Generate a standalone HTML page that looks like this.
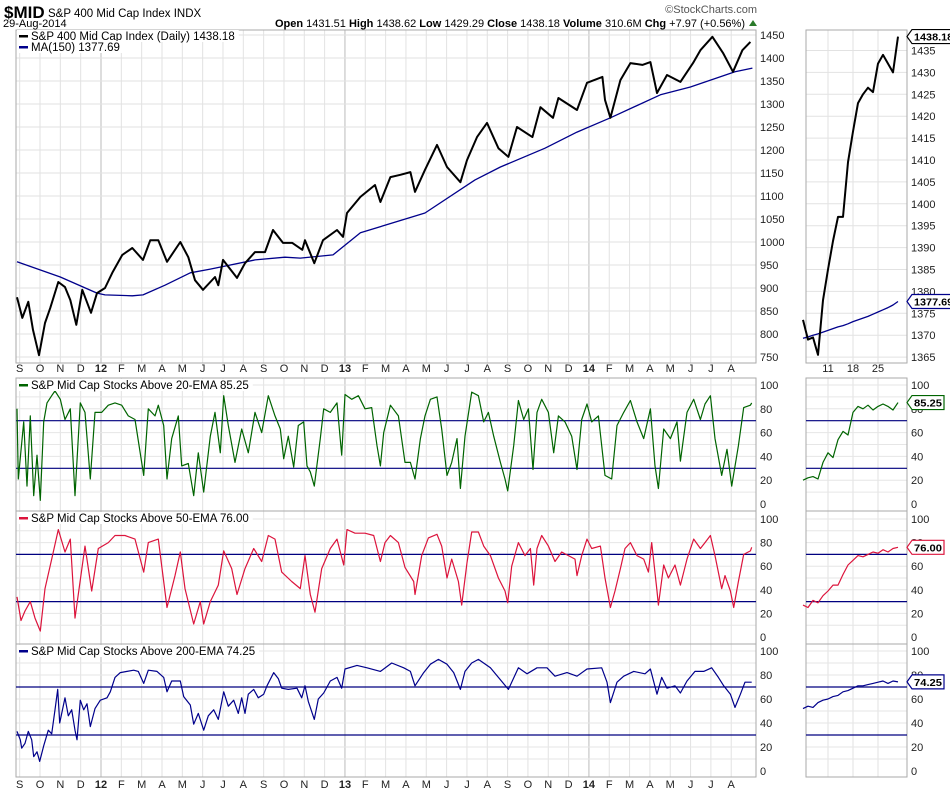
<!DOCTYPE html>
<html><head><meta charset="utf-8">
<style>
body{margin:0;background:#fff;}
svg{display:block;font-family:"Liberation Sans",sans-serif;}
</style></head>
<body>
<svg id="c" width="950" height="795" viewBox="0 0 950 795">
<text x="4" y="18" font-size="17" font-weight="bold">$MID</text>
<text x="48" y="17" font-size="11.5">S&amp;P 400 Mid Cap Index  INDX</text>
<text x="3" y="27" font-size="11">29-Aug-2014</text>
<text x="757" y="13" font-size="11" fill="#555" text-anchor="end">©StockCharts.com</text>
<text x="745" y="27" font-size="11" text-anchor="end"><tspan font-weight="bold">Open</tspan> 1431.51 <tspan font-weight="bold">High</tspan> 1438.62 <tspan font-weight="bold">Low</tspan> 1429.29 <tspan font-weight="bold">Close</tspan> 1438.18 <tspan font-weight="bold">Volume</tspan> 310.6M <tspan font-weight="bold">Chg</tspan> +7.97 (+0.56%)</text>
<polygon points="749,26 757,26 753,20" fill="#2a7a2a"/>
<g id="grid"></g>
<g id="marks"></g>
<g id="labels"></g>
</svg>
<script>
// ---------- DATA ----------
const priceDays=[0,8,17,24,33,42,50,62,72,80,89,98,111,120,132,143,158,173,189,200,212,225,245,257,267,279,297,302,309,330,342,357,372,384,399,413,428,432,446,459,480,489,495,515,537,545,560,575,590,597,612,630,645,665,675,690,705,722,737,750,773,785,804,812,840,855,878,882,890,905,920,938,950,960,975,995,1014,1025,1043,1059,1074,1088,1100];
const priceVals=[880,835,870,809,754,824,857,913,902,874,820,896,846,889,900,933,972,987,961,1004,1004,957,1000,967,917,896,924,906,961,922,954,978,978,1026,998,998,983,1004,954,1004,1026,1011,1063,1098,1124,1087,1141,1146,1152,1109,1157,1211,1163,1130,1178,1228,1259,1204,1185,1250,1228,1293,1270,1313,1287,1346,1359,1309,1270,1352,1389,1385,1391,1324,1363,1348,1389,1417,1446,1411,1370,1417,1435];
const maDays=[0,65,120,132,173,189,222,260,290,357,402,425,474,515,612,687,725,792,840,890,965,1010,1077,1103];
const maVals=[957,924,889,885,883,885,906,933,941,961,967,965,972,1020,1063,1135,1163,1204,1239,1270,1320,1337,1370,1378];
const priceTicks=[750,800,850,900,950,1000,1050,1100,1150,1200,1250,1300,1350,1400,1450];

const greenDays=[0,2,10,15,20,25,30,35,40,45,52,57,65,72,80,87,95,102,110,117,127,137,147,157,167,177,190,197,207,212,220,225,232,242,247,257,265,272,280,290,297,305,310,317,327,337,347,357,367,377,387,395,400,407,415,422,430,435,440,446,455,460,470,480,487,492,502,512,522,532,540,545,550,560,572,582,590,597,605,612,620,630,637,645,652,660,665,672,682,692,700,707,715,725,732,736,745,752,760,767,774,780,787,797,805,812,822,832,840,847,855,862,872,882,892,900,910,920,930,940,950,957,962,970,980,990,995,1005,1015,1025,1032,1040,1047,1057,1065,1072,1082,1090,1100,1102];
const greenVals=[80,21,69,15,74,7,41,3,69,85,91,95,88,71,80,7,85,77,21,77,77,83,85,83,74,71,24,80,74,83,66,21,55,74,32,34,7,43,10,57,77,43,91,66,35,63,43,77,60,91,74,63,38,57,31,66,69,32,27,15,55,80,77,85,41,92,88,91,80,81,49,32,60,83,74,35,35,21,55,74,88,90,63,24,35,55,13,57,94,91,69,77,57,35,21,11,49,87,71,80,29,77,88,77,43,74,69,57,29,71,84,69,74,24,21,66,77,87,69,55,80,32,13,63,55,69,36,77,88,71,84,91,55,24,46,15,49,81,83,85];

const redDays=[0,6,12,20,27,35,42,52,62,72,80,87,102,112,122,137,147,162,177,190,197,212,225,237,245,252,265,275,280,290,302,310,322,330,342,355,367,377,387,397,412,425,432,440,447,457,470,480,490,495,507,522,535,545,552,560,572,582,595,597,607,617,630,637,645,652,662,667,675,682,692,700,710,722,732,736,742,752,762,770,775,780,787,797,807,817,827,837,840,847,855,862,875,882,890,897,905,912,920,930,940,947,952,960,962,970,977,987,995,1005,1015,1025,1032,1040,1047,1057,1062,1070,1075,1082,1090,1100,1102];
const redVals=[34,14,22,30,16,5,41,66,91,72,83,16,77,39,75,80,86,86,83,55,80,83,25,52,72,41,11,30,11,30,44,73,58,36,58,75,64,86,83,55,47,41,69,36,21,58,75,83,61,91,88,88,86,64,80,86,80,59,47,36,69,84,87,77,50,66,47,27,63,89,89,77,69,50,39,29,60,80,69,75,44,75,86,77,64,72,69,66,52,69,83,75,77,50,25,39,58,75,80,69,66,55,80,39,27,61,50,61,44,66,83,75,80,86,69,41,52,39,25,47,70,73,76];

const blueDays=[0,5,7,12,17,22,25,30,34,40,47,52,57,61,64,72,77,82,87,90,95,100,105,110,117,125,135,140,147,155,165,175,182,190,197,210,220,225,232,245,250,260,265,272,280,287,295,302,310,317,325,332,337,342,347,355,362,370,375,385,392,397,407,420,427,432,437,446,452,460,470,480,487,492,510,525,545,562,580,590,597,610,620,632,645,655,665,672,682,692,710,722,737,752,765,780,795,807,825,840,855,877,885,890,900,910,925,942,950,960,967,975,987,995,1005,1017,1030,1042,1052,1060,1070,1077,1085,1092,1102];
const blueVals=[33,26,19,23,33,26,12,16,8,21,34,31,51,68,40,61,46,51,34,26,59,51,56,37,52,59,61,66,78,82,83,84,83,73,84,83,78,66,75,75,62,55,39,48,34,46,51,43,66,54,59,48,61,48,64,68,61,64,71,82,77,69,68,69,61,71,58,43,60,65,75,78,69,85,88,86,83,90,86,83,71,82,89,93,89,82,68,83,90,93,86,78,68,86,81,86,86,79,82,79,85,86,74,57,74,79,83,81,85,64,78,69,71,65,75,83,83,86,78,71,64,53,64,74,74];

// zoom panel (Aug 4 - Aug 29 2014, trading days)
const zoomDayLabels=['11','18','25'];
const zoomPrice=[1373.5,1369,1369.5,1365.5,1378,1385,1391.5,1397,1397,1409.5,1416.5,1423,1425,1426.5,1425.5,1432,1434,1432,1430,1438.18];
const zoomMA=[1369.3,1369.6,1370,1370.3,1370.7,1371.1,1371.5,1371.9,1372.2,1372.6,1373.1,1373.5,1373.9,1374.3,1374.8,1375.3,1375.8,1376.3,1376.9,1377.69];
const zoomGreen=[20,22,23,21,35,43,39,54,61,58,77,82,80,83,79,82,84,82,79,85.25];
const zoomRed=[27,25,31,29,35,39,44,44,53,61,65,69,68,70,72,71,74,72,75,76];
const zoomBlue=[52,54,53,57,59,60,62,63,66,67,69,71,71,72,73,74,75,73,75,74.25];
const zoomPriceTicks=[1365,1370,1375,1380,1385,1390,1395,1400,1405,1410,1415,1420,1425,1430,1435];
const oscTicks=[0,20,40,60,80,100];
const monthLabels=['S','O','N','D','12','F','M','A','M','J','J','A','S','O','N','D','13','F','M','A','M','J','J','A','S','O','N','D','14','F','M','A','M','J','J','A'];

// ---------- SCALES ----------
const L=16,R=756,ZL=806,ZR=907;
const xDay=d=>17+d*0.6667;
const xMonth=k=>101+(k-4)*20.33;
const xZoom=i=>803+i*5;
const yPrice=v=>35+(1450-v)*0.46;
const yZPrice=v=>50.5+(1435-v)*4.38;
const panels={green:{top:378,bot:511,y:v=>385+(100-v)*1.19},red:{top:511,bot:644,y:v=>519+(100-v)*1.18},blue:{top:644,bot:777,y:v=>651+(100-v)*1.2}};
const NS='http://www.w3.org/2000/svg';
const G=document.getElementById('grid'),M=document.getElementById('marks'),LB=document.getElementById('labels');
function mk(tag,attrs,parent){const e=document.createElementNS(NS,tag);for(const k in attrs)e.setAttribute(k,attrs[k]);parent.appendChild(e);return e;}

// ---------- GRID ----------
function gridPanel(top,bot,left,right){
  const r=mk('rect',{x:left,y:top,width:right-left,height:bot-top,fill:'none',stroke:'#aaa','stroke-width':1},G);
  
  
}
monthLabels.forEach((m,k)=>{
  const x=xMonth(k);
  const yr=/\d/.test(m);
  [[30,363],[378,777]].forEach(([a,b])=>{
    const l=mk('line',{x1:x,x2:x,y1:a,y2:b,stroke:yr?'#bbb':'#e2e2e2','stroke-width':1},G);
    
    
  });
  const t=mk('text',{x:x,y:372,'font-size':11,'text-anchor':'middle','font-weight':yr?'bold':'normal',fill:'#222'},LB);
  t.textContent=m;
  
  
  const t2=mk('text',{x:x,y:788,'font-size':11,'text-anchor':'middle','font-weight':yr?'bold':'normal',fill:'#222'},LB);
  t2.textContent=m;
  
  
});
zoomDayLabels.forEach((d,i)=>{
  const x=828+i*25;
  [[30,363],[378,777]].forEach(([a,b])=>{
    const l=mk('line',{x1:x,x2:x,y1:a,y2:b,stroke:'#e2e2e2'},G);
    
    
  });
  const t=mk('text',{x:x,y:372,'font-size':11,'text-anchor':'middle',fill:'#222'},LB);
  t.textContent=d;
  
  
});
priceTicks.forEach(v=>{
  const y=yPrice(v);
  const l=mk('line',{x1:L,x2:R,y1:y,y2:y,stroke:'#e2e2e2'},G);
  
  
  const t=mk('text',{x:760,y:y+4,'font-size':11,fill:'#222'},LB);
  t.textContent=v;
  
  
});
zoomPriceTicks.forEach(v=>{
  const y=yZPrice(v);
  const l=mk('line',{x1:ZL,x2:ZR,y1:y,y2:y,stroke:'#e2e2e2'},G);
  
  
  const t=mk('text',{x:911,y:y+4,'font-size':11,fill:'#222'},LB);
  t.textContent=v;
  
  
});
gridPanel(30,363,L,R);gridPanel(30,363,ZL,ZR);
Object.keys(panels).forEach(key=>{
  const p=panels[key];
  for(let v=10;v<=100;v+=10){
    const y=p.y(v);
    if(y<=p.top+1)continue;
    [[L,R],[ZL,ZR]].forEach(([a,b])=>{
      const l=mk('line',{x1:a,x2:b,y1:y,y2:y,stroke:'#e6e6e6'},G);
      
      
    });
  }
  oscTicks.forEach(v=>{
    const y=p.y(v);
    if(y>p.bot-2)return;
    [760,911].forEach(x=>{
      const t=mk('text',{x:x,y:y+4,'font-size':11,fill:'#222'},LB);
      t.textContent=v;
      
      
    });
  });
  gridPanel(p.top,p.bot,L,R);gridPanel(p.top,p.bot,ZL,ZR);
  [70,30].forEach(v=>{
    [[L,R],[ZL,ZR]].forEach(([a,b])=>{
      const l=mk('line',{x1:a,x2:b,y1:p.y(v),y2:p.y(v),stroke:'#000080','stroke-width':1.2},G);
      
      
    });
  });
});

// ---------- MARKS ----------
function poly(xs,ys,color,w,name){
  const pts=xs.map((x,i)=>x.toFixed(1)+','+ys[i].toFixed(1)).join(' ');
  const e=mk('polyline',{points:pts,fill:'none',stroke:color,'stroke-width':w,'stroke-linejoin':'round'},M);
  
  
}
poly(maDays.map(xDay),maVals.map(yPrice),'#00008b',1.3,'ma150-line');
poly(priceDays.map(xDay),priceVals.map(yPrice),'#000',2,'price-line');
poly(greenDays.map(xDay),greenVals.map(panels.green.y),'#006400',1.2,'ema20-breadth-line');
poly(redDays.map(xDay),redVals.map(panels.red.y),'#dc143c',1.2,'ema50-breadth-line');
poly(blueDays.map(xDay),blueVals.map(panels.blue.y),'#00008b',1.2,'ema200-breadth-line');
const zi=zoomPrice.map((_,i)=>xZoom(i));
poly(zi,zoomMA.map(yZPrice),'#00008b',1.3,'zoom-ma150-line');
poly(zi,zoomPrice.map(yZPrice),'#000',2,'zoom-price-line');
poly(zi,zoomGreen.map(panels.green.y),'#006400',1.2,'zoom-ema20-line');
poly(zi,zoomRed.map(panels.red.y),'#dc143c',1.2,'zoom-ema50-line');
poly(zi,zoomBlue.map(panels.blue.y),'#00008b',1.2,'zoom-ema200-line');

// ---------- FLAGS ----------
function flag(y,text,color,name){
  const w=text.length*5.6+4;
  const g=mk('g',{},LB);
  
  
  mk('polygon',{points:`${ZR},${y} ${ZR+5},${y-7} ${ZR+5+w},${y-7} ${ZR+5+w},${y+7} ${ZR+5},${y+7}`,fill:'#fff',stroke:color,'stroke-width':1.2},g);
  const t=mk('text',{x:ZR+7,y:y+4,'font-size':10.5,'font-weight':'bold',fill:'#000',textLength:w-4,lengthAdjust:'spacingAndGlyphs'},g);
  t.textContent=text;
}
flag(yZPrice(zoomPrice[zoomPrice.length-1]),'1438.18','#000','price-value-flag');
flag(yZPrice(zoomMA[zoomMA.length-1]),'1377.69','#00008b','ma-value-flag');
flag(panels.green.y(zoomGreen[zoomGreen.length-1]),'85.25','#006400','ema20-value-flag');
flag(panels.red.y(zoomRed[zoomRed.length-1]),'76.00','#dc143c','ema50-value-flag');
flag(panels.blue.y(zoomBlue[zoomBlue.length-1]),'74.25','#00008b','ema200-value-flag');

// ---------- LEGENDS ----------
function legend(y,text,color,name){
  const g=mk('g',{},LB);
  
  
  const t=mk('text',{x:31,y:y+4,'font-size':11.5,fill:'#000'},g);
  t.textContent=text;
  const bb=t.getComputedTextLength();
  const bg=mk('rect',{x:17,y:y-6,width:bb+18,height:12,fill:'#fff'},g);
  g.insertBefore(bg,t);
  mk('rect',{x:19,y:y-1,width:9,height:2.5,fill:color},g);
}
legend(36,'S&P 400 Mid Cap Index (Daily) 1438.18','#000','price-legend');
legend(47,'MA(150) 1377.69','#00008b','ma-legend');
legend(385,'S&P Mid Cap Stocks Above 20-EMA 85.25','#006400','ema20-legend');
legend(518,'S&P Mid Cap Stocks Above 50-EMA 76.00','#dc143c','ema50-legend');
legend(651,'S&P Mid Cap Stocks Above 200-EMA 74.25','#00008b','ema200-legend');
</script>
</body></html>
